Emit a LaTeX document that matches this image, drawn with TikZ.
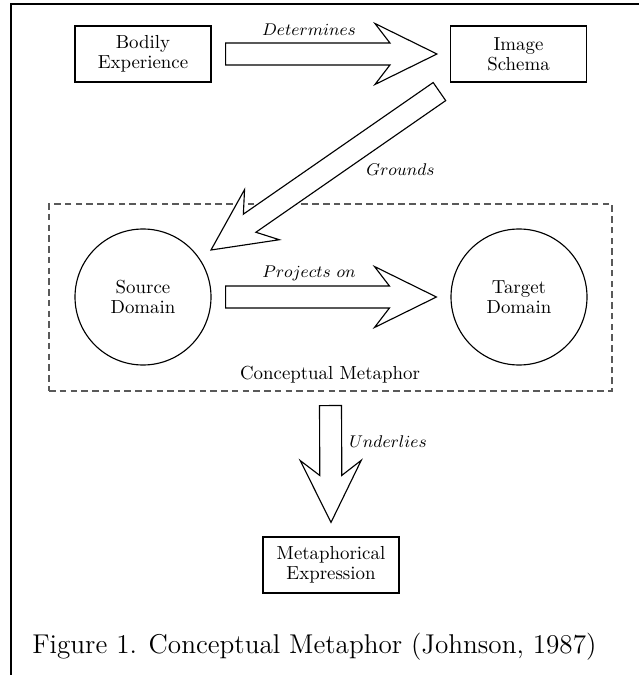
\documentclass[tikz,border=0pt]{standalone}
\usetikzlibrary{calc}
\tikzset{
  box/.style={draw, line width=0.6pt, minimum width=72.08pt, minimum height=29.68pt,
    align=center, inner sep=0pt, font=\fontsize{10}{10.6}\selectfont},
  dom/.style={draw, circle, line width=0.6pt, minimum size=72.08pt,
    align=center, inner sep=0pt, font=\fontsize{10}{10.6}\selectfont},
  fat/.style={draw, line width=0.6pt, line join=miter, fill=white},
  lbl/.style={anchor=base, inner sep=0pt, font=\fontsize{9.1}{11}\selectfont},
  frameline/.style={line width=0.8pt},
  grp/.style={draw=black!65, line width=0.6pt, dash pattern=on 3.5pt off 2.2pt,
    minimum width=298.4pt, minimum height=99.1pt, inner sep=0pt},
}
\newcommand\fatarrow[2]{%
  \coordinate (fan) at ($(#2)!24.91pt!(#1)$);
  \coordinate (fah) at ($(#2)!32.86pt!(#1)$);
  \draw[fat] ($(#1)!5.83pt!90:(#2)$) -- ($(fan)!5.83pt!90:(#2)$)
    -- ($(fah)!16.17pt!90:(#2)$) -- (#2)
    -- ($(fah)!16.17pt!-90:(#2)$) -- ($(fan)!5.83pt!-90:(#2)$)
    -- ($(#1)!5.83pt!-90:(#2)$) -- cycle;
}
\begin{document}
\begin{tikzpicture}[x=0.53pt,y=-0.53pt]
\useasboundingbox (0,0) rectangle (639,675);
% frame
\coordinate (fc) at (11,4);
\coordinate (ftr) at (639,4);
\coordinate (fbl) at (11,675);
\draw[frameline] (ftr) -- (fc) -- (fbl);

\node[box] (bodily) at (143,54) {Bodily\\Experience};
\node[box] (image) at (518.5,54) {Image\\Schema};
\node[grp] (cm) at (330.5,297.5) {};
\node[dom] (source) at (143,297) {Source\\Domain};
\node[dom] (target) at (519,297) {Target\\Domain};
\node[box] (expr) at (331,565) {Metaphorical\\Expression};

% Determines
\coordinate (d1) at ($(bodily.east)+(14,0)$);
\coordinate (d2) at ($(image.west)+(-13,0)$);
\fatarrow{d1}{d2}
\node[lbl] (ldet) at (309,36) {$Determines$};

% Grounds
\coordinate (g1) at ($(image.south west)+(-10.5,9)$);
\coordinate (g2) at ($(source.center)+(68,-47)$);
\fatarrow{g1}{g2}
\node[lbl] (lgr) at (400.5,176) {$Grounds$};

% Projects on
\coordinate (p1) at ($(source.east)+(14,0)$);
\coordinate (p2) at ($(target.west)+(-14,0)$);
\fatarrow{p1}{p2}
\node[lbl] (lpr) at (309,278) {$Projects\ on$};

\node[anchor=base, inner sep=0pt, font=\fontsize{10}{12}\selectfont] (lcm) at (330,379) {Conceptual Metaphor};

% Underlies
\coordinate (u1) at ($(cm.south)+(0,14)$);
\coordinate (u2) at ($(expr.north)+(0,-14)$);
\fatarrow{u1}{u2}
\node[lbl] (lun) at (388,447) {$Underlies$};

% caption
\node[anchor=base west, inner sep=0pt, font=\fontsize{14.4}{17}\selectfont] (cap) at (32,653)
  {Figure 1. Conceptual Metaphor (Johnson, 1987)};
\end{tikzpicture}
\end{document}
